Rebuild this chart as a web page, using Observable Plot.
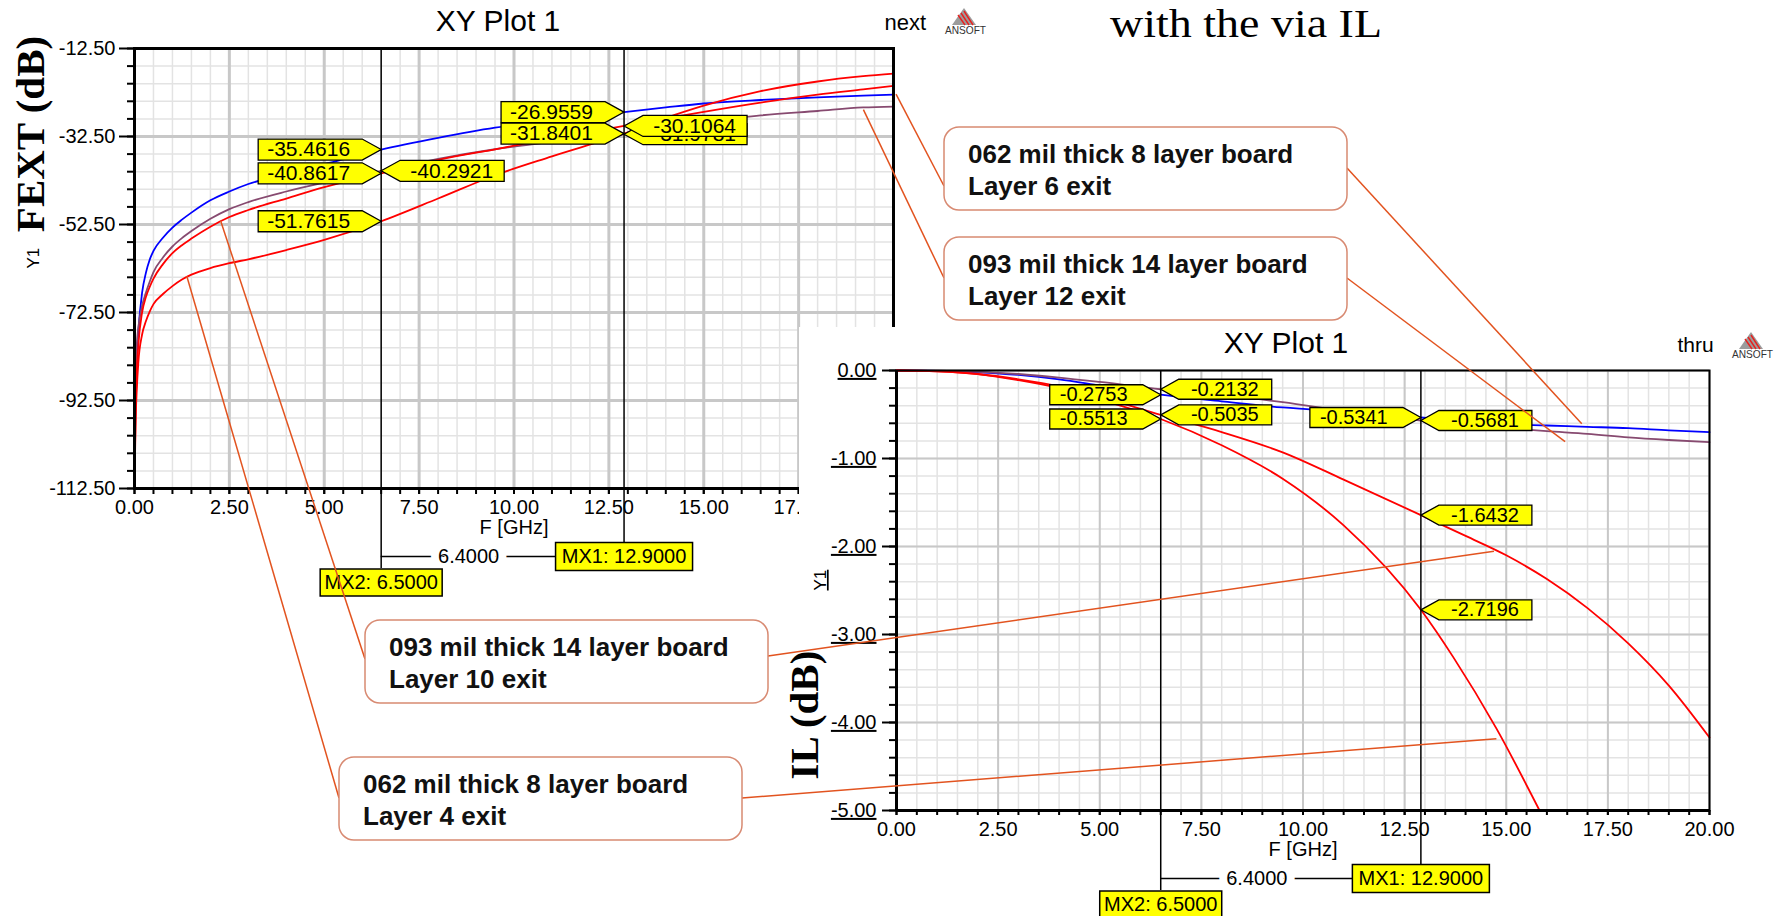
<!DOCTYPE html>
<html><head><meta charset="utf-8">
<script src="https://cdn.jsdelivr.net/npm/d3@7"></script>
<script src="https://cdn.jsdelivr.net/npm/@observablehq/plot@0.6"></script>
<style>
body{margin:0;background:#fff;}
#page{position:relative;width:1775px;height:916px;overflow:hidden;background:#fff;font-family:"Liberation Sans",Arial,sans-serif;}
#fext{position:absolute;left:0;top:0;width:1000px;height:610px;}
#il{position:absolute;left:799px;top:327px;width:976px;height:589px;background:#fff;}
#overlay{position:absolute;left:0;top:0;}
svg{max-width:none !important;}
</style></head>
<body><div id="page"><div id="fext"></div><div id="il"></div><svg id="overlay" width="1775" height="916"></svg></div>
<script>
// ---------------- DATA ----------------
const plotTitle = "XY Plot 1";
const fextTag = "next";
const ilTag = "thru";
const xLabel = "F [GHz]";
const yLabelSmall = "Y1";

const fextXDomain = [0, 20];
const fextYDomain = [-112.5, -12.5];
const fextXTicks = [0, 2.5, 5, 7.5, 10, 12.5, 15, 17.5, 20];
const fextYTicks = [-112.5, -92.5, -72.5, -52.5, -32.5, -12.5];

const fextFreq   = [0, 0.03, 0.06, 0.1, 0.2, 0.3, 0.4, 0.5, 0.75, 1, 1.25, 1.5, 2, 2.5, 3, 4, 5, 6.5, 8, 9.5, 11, 12.9, 14, 15, 16.5, 18, 19.2, 20];
const fextBlue   = [-106, -90, -83, -77, -68, -63.5, -60.5, -58.5, -55.5, -53.2, -51.4, -49.8, -47, -45, -43.3, -41, -38.8, -35.46, -32.8, -30.5, -28.8, -26.96, -25.9, -25.0, -24.2, -23.6, -23.2, -23.0];
const fextPurple = [-108, -90, -80, -76, -71, -68, -65.5, -63.3, -60, -57.5, -55.6, -54, -51.2, -49, -47.4, -45, -43, -40.29, -37.6, -35.4, -33.7, -31.98, -30.3, -29.2, -27.7, -26.7, -25.9, -25.7];
const fextRedA   = [-110, -95, -86, -80, -72.5, -69, -66.7, -64.8, -61.5, -59, -57.2, -55.7, -53, -50.8, -49.2, -46.6, -44, -40.86, -37.8, -35.4, -33, -30.11, -28.4, -26.9, -24.8, -23, -21.8, -21];
const fextRedB   = [-112, -97, -90, -84, -77.5, -74.5, -72.3, -70.6, -68.3, -66.5, -65, -63.9, -62.4, -61.3, -60.4, -58.3, -56, -51.76, -46.6, -41.3, -37, -31.84, -28.3, -25.5, -22.2, -20, -18.8, -18.2];

const ilXDomain = [0, 20];
const ilYDomain = [-5, 0];
const ilXTicks = [0, 2.5, 5, 7.5, 10, 12.5, 15, 17.5, 20];
const ilYTicks = [-5, -4, -3, -2, -1, 0];

const ilFreq   = [0, 1, 2, 3, 4, 5, 6.5, 8, 9.5, 11, 12.9, 14, 15, 16, 17, 18, 19, 20];
const ilBlue   = [0, -0.005, -0.02, -0.05, -0.1, -0.17, -0.2753, -0.35, -0.42, -0.47, -0.5341, -0.575, -0.61, -0.625, -0.64, -0.655, -0.68, -0.70];
const ilPurple = [0, -0.003, -0.015, -0.04, -0.08, -0.13, -0.2132, -0.28, -0.36, -0.46, -0.5681, -0.625, -0.655, -0.69, -0.72, -0.76, -0.79, -0.815];
const ilRedC   = [0, -0.01, -0.04, -0.1, -0.18, -0.3, -0.5035, -0.7, -0.93, -1.24, -1.6432, -1.88, -2.1, -2.37, -2.7, -3.1, -3.58, -4.17];
const ilRedDFreq = [0, 1, 2, 3, 4, 5, 6.5, 8, 9.5, 11, 12.9, 13.7, 14.76, 15.82];
const ilRedD     = [0, -0.01, -0.04, -0.11, -0.2, -0.33, -0.5513, -0.85, -1.23, -1.76, -2.7196, -3.26, -4.07, -5.0];

const markerNames = ["MX2", "MX1"];
const markerFreqs = [6.5, 12.9];

const fextMarkerValues = [
  {f: 6.5, v: -35.4616, side: "L"}, {f: 6.5, v: -40.8617, side: "L"},
  {f: 6.5, v: -40.2921, side: "R"}, {f: 6.5, v: -51.7615, side: "L"},
  {f: 12.9, v: -26.9559, side: "L"}, {f: 12.9, v: -31.8401, side: "L"},
  {f: 12.9, v: -31.9781, side: "R"}, {f: 12.9, v: -30.1064, side: "R"}
];
const ilMarkerValues = [
  {f: 6.5, v: -0.2753, side: "L"}, {f: 6.5, v: -0.5513, side: "L"},
  {f: 6.5, v: -0.2132, side: "R"}, {f: 6.5, v: -0.5035, side: "R"},
  {f: 12.9, v: -0.5341, side: "L"}, {f: 12.9, v: -0.5681, side: "R"},
  {f: 12.9, v: -1.6432, side: "R"}, {f: 12.9, v: -2.7196, side: "R"}
];

const calloutText = [
  ["062 mil thick 8 layer board", "Layer 6 exit"],
  ["093 mil thick 14 layer board", "Layer 12 exit"],
  ["093 mil thick 14 layer board", "Layer 10 exit"],
  ["062 mil thick 8 layer board", "Layer 4 exit"]
];
const calloutFextTarget = [[20.08, -23.0], [19.22, -26.5], [2.28, -51.7], [1.39, -64.3]];
const calloutIlTarget   = [[16.87, -0.61], [16.46, -0.815], [14.71, -2.06], [14.77, -4.19]];

const fextTitle = "FEXT (dB)";
const ilTitle = "IL (dB)";
const slideTitle = "with the via IL";
const logoText = "ANSOFT";

// ---------------- STYLE / LAYOUT ----------------
const FONT = "Liberation Sans, Arial, Helvetica, sans-serif";
const C = {blue: "#0000FF", purple: "#874A70", red: "#FF0000", major: "#C8C8C8", minor: "#E3E3E3",
           yellow: "#FFFF00", leader: "#E2531F", boxStroke: "#D88A72"};
const calloutBoxes = [
  {x: 944, y: 127, lY: 59, rY: 41}, {x: 944, y: 237, lY: 41, rY: 41},
  {x: 365, y: 620, lY: 39, rY: 36}, {x: 339, y: 757, lY: 41, rY: 41}
];
const BOX_W = 403, BOX_H = 83;

function rows(freq, vals) { return freq.map((f, i) => ({f, v: vals[i]})); }
function arrowBox(w, h, a, dir) {
  return {draw(ctx) { ctx.moveTo(0, 0); ctx.lineTo(dir * a, -h / 2); ctx.lineTo(dir * w, -h / 2);
    ctx.lineTo(dir * w, h / 2); ctx.lineTo(dir * a, h / 2); ctx.closePath(); }};
}
function rectBox(w, h) { return {draw(ctx) { ctx.rect(-w / 2, -h / 2, w, h); }}; }

function valueLabelMarks(labels, cfg) {
  return labels.flatMap(d => {
    const dir = d.side === "L" ? -1 : 1;
    return [
      Plot.dot([d], {x: "f", y: "v", symbol: arrowBox(cfg.w, cfg.h, cfg.a, dir), fill: C.yellow, stroke: "black", strokeWidth: 1.3}),
      Plot.text([d], {x: "f", y: "v", text: e => e.v.toFixed(4), textAnchor: dir < 0 ? "start" : "end",
        dx: dir < 0 ? -cfg.w + cfg.padL : cfg.w - cfg.padR, fontSize: cfg.fs, fill: "black", lineAnchor: "middle"})
    ];
  });
}
function markerMarks(yMin) {
  const m = markerNames.map((name, i) => ({name, f: markerFreqs[i]}));
  const delta = markerFreqs[1] - markerFreqs[0];
  return [
    Plot.ruleX([m[0]], {x: "f", stroke: "black", strokeWidth: 1.5, insetBottom: -80}),
    Plot.ruleX([m[1]], {x: "f", stroke: "black", strokeWidth: 1.5, insetBottom: -54}),
    Plot.ruleY([yMin], {y: d => d, x1: () => markerFreqs[0], x2: () => markerFreqs[1], dy: 68, stroke: "black", strokeWidth: 1.5}),
    Plot.text([delta], {x: () => (markerFreqs[0] + markerFreqs[1]) / 2, text: d => d.toFixed(4), frameAnchor: "bottom", dy: 68, dx: -34,
      lineAnchor: "middle", fill: "black", stroke: "white", strokeWidth: 16, strokeLinejoin: "round", fontSize: 20}),
    Plot.dot([m[1]], {x: "f", frameAnchor: "bottom", dy: 68, symbol: rectBox(137, 28), fill: C.yellow, stroke: "black", strokeWidth: 1.5}),
    Plot.text([m[1]], {x: "f", text: d => `${d.name}: ${d.f.toFixed(4)}`, frameAnchor: "bottom", dy: 68, lineAnchor: "middle", fontSize: 20}),
    Plot.dot([m[0]], {x: "f", frameAnchor: "bottom", dy: 94, symbol: rectBox(122, 27), fill: C.yellow, stroke: "black", strokeWidth: 1.5}),
    Plot.text([m[0]], {x: "f", text: d => `${d.name}: ${d.f.toFixed(4)}`, frameAnchor: "bottom", dy: 94, lineAnchor: "middle", fontSize: 20})
  ];
}

// ---------------- FEXT PLOT ----------------
const fextXMinor = d3.range(0, 20.001, 0.5);
const fextYMinor = d3.range(-112.5, -12.4, 4);
const fextPlot = Plot.plot({
  width: 1000, height: 610, marginLeft: 134, marginRight: 107, marginTop: 48, marginBottom: 122,
  style: {fontFamily: FONT, fontSize: "20px", background: "transparent", color: "black", overflow: "visible"},
  x: {domain: fextXDomain, label: null},
  y: {domain: fextYDomain, label: null},
  marks: [
    Plot.gridX(fextXMinor, {stroke: C.minor, strokeOpacity: 1, strokeWidth: 1.5}),
    Plot.gridY(fextYMinor, {stroke: C.minor, strokeOpacity: 1, strokeWidth: 1.5}),
    Plot.gridX(fextXTicks, {stroke: C.major, strokeOpacity: 1, strokeWidth: 3}),
    Plot.gridY(fextYTicks, {stroke: C.major, strokeOpacity: 1, strokeWidth: 3}),
    Plot.line(rows(fextFreq, fextBlue), {x: "f", y: "v", stroke: C.blue, strokeWidth: 1.8, curve: "monotone-x"}),
    Plot.line(rows(fextFreq, fextPurple), {x: "f", y: "v", stroke: C.purple, strokeWidth: 1.8, curve: "monotone-x"}),
    Plot.line(rows(fextFreq, fextRedA), {x: "f", y: "v", stroke: C.red, strokeWidth: 1.8, curve: "monotone-x"}),
    Plot.line(rows(fextFreq, fextRedB), {x: "f", y: "v", stroke: C.red, strokeWidth: 1.8, curve: "monotone-x"}),
    Plot.frame({stroke: "black", strokeWidth: 3}),
    Plot.axisY(fextYMinor, {tickSize: 7, tickFormat: () => "", strokeWidth: 2, label: null}),
    Plot.axisY(fextYTicks, {tickSize: 15, tickPadding: 4, tickFormat: d => d.toFixed(2), strokeWidth: 2, label: null, fontSize: 20}),
    Plot.axisX(fextXMinor, {tickSize: 6, tickFormat: () => "", strokeWidth: 2, label: null}),
    Plot.axisX(fextXTicks, {tickSize: 6, tickPadding: 5, tickFormat: d => d.toFixed(2), strokeWidth: 2, label: null, fontSize: 20}),
    Plot.text([xLabel], {text: d => d, frameAnchor: "bottom", dy: 39, lineAnchor: "middle", fontSize: 20}),
    Plot.text([yLabelSmall], {text: d => d, frameAnchor: "left", dx: -101, rotate: -90, fontSize: 17}),
    Plot.text([plotTitle], {text: d => d, frameAnchor: "top", dx: -16, dy: -27, lineAnchor: "middle", fontSize: 30}),
    Plot.text([fextTag], {text: d => d, frameAnchor: "top-right", dx: -9, dy: -26, textAnchor: "start", lineAnchor: "middle", fontSize: 22}),
    ...markerMarks(fextYDomain[0]),
    ...valueLabelMarks(fextMarkerValues, {w: 123, h: 21, a: 19, padL: 9, padR: 11, fs: 21})
  ]
});
document.getElementById("fext").appendChild(fextPlot);

// ---------------- IL PLOT ----------------
const ilXMinor = d3.range(0, 20.001, 0.5);
const ilYMinor = d3.range(-5, 0.001, 0.2);
const ilPlot = Plot.plot({
  width: 976, height: 589, marginLeft: 97, marginRight: 66, marginTop: 43, marginBottom: 106,
  style: {fontFamily: FONT, fontSize: "20px", background: "white", color: "black", overflow: "visible"},
  x: {domain: ilXDomain, label: null},
  y: {domain: ilYDomain, label: null},
  marks: [
    Plot.gridX(ilXMinor, {stroke: C.minor, strokeOpacity: 1, strokeWidth: 1.5}),
    Plot.gridY(ilYMinor, {stroke: C.minor, strokeOpacity: 1, strokeWidth: 1.5}),
    Plot.gridX(ilXTicks, {stroke: C.major, strokeOpacity: 1, strokeWidth: 2}),
    Plot.gridY(ilYTicks, {stroke: C.major, strokeOpacity: 1, strokeWidth: 2}),
    Plot.line(rows(ilFreq, ilBlue), {x: "f", y: "v", stroke: C.blue, strokeWidth: 1.8, curve: "monotone-x"}),
    Plot.line(rows(ilFreq, ilPurple), {x: "f", y: "v", stroke: C.purple, strokeWidth: 1.8, curve: "monotone-x"}),
    Plot.line(rows(ilFreq, ilRedC), {x: "f", y: "v", stroke: C.red, strokeWidth: 1.8, curve: "monotone-x"}),
    Plot.line(rows(ilRedDFreq, ilRedD), {x: "f", y: "v", stroke: C.red, strokeWidth: 1.8, curve: "monotone-x"}),
    Plot.frame({stroke: "black", strokeWidth: 2}),
    Plot.ruleX([ilXDomain[0]], {x: d => d, stroke: "black", strokeWidth: 3}),
    Plot.ruleY([ilYDomain[0]], {y: d => d, stroke: "black", strokeWidth: 3}),
    Plot.axisY(ilYMinor, {tickSize: 7, tickFormat: () => "", strokeWidth: 2, label: null}),
    Plot.axisY(ilYTicks, {tickSize: 14, tickPadding: 6, tickFormat: d => d.toFixed(2), strokeWidth: 2, label: null, fontSize: 20}),
    Plot.axisX(ilXMinor, {tickSize: 5, tickFormat: () => "", strokeWidth: 2, label: null}),
    Plot.axisX(ilXTicks, {tickSize: 5, tickPadding: 6, tickFormat: d => d.toFixed(2), strokeWidth: 2, label: null, fontSize: 20}),
    Plot.text([xLabel], {text: d => d, frameAnchor: "bottom", dy: 39, lineAnchor: "middle", fontSize: 20}),
    Plot.text([yLabelSmall], {text: d => d, frameAnchor: "left", dx: -76, rotate: -90, fontSize: 17}),
    Plot.text([plotTitle], {text: d => d, frameAnchor: "top", dx: -17, dy: -27, lineAnchor: "middle", fontSize: 30}),
    Plot.text([ilTag], {text: d => d, frameAnchor: "top-right", dx: -32, dy: -25, textAnchor: "start", lineAnchor: "middle", fontSize: 21}),
    ...markerMarks(ilYDomain[0]),
    ...valueLabelMarks(ilMarkerValues, {w: 111, h: 20, a: 18, padL: 10, padR: 13, fs: 20})
  ]
});
document.getElementById("il").appendChild(ilPlot);

// underline the IL y tick labels and the small Y1 label
ilPlot.querySelectorAll('g[aria-label="y-axis tick label"] text').forEach(t => t.style.textDecoration = "underline");
ilPlot.querySelectorAll("text").forEach(t => { if (t.textContent === yLabelSmall) t.style.textDecoration = "underline"; });

// ---------------- OVERLAY (callouts, titles, logos) ----------------
function scaler(plot, ox, oy) {
  const sx = plot.scale("x"), sy = plot.scale("y");
  const X = d3.scaleLinear(sx.domain, sx.range), Y = d3.scaleLinear(sy.domain, sy.range);
  return (f, v) => [ox + X(f), oy + Y(v)];
}
const toFext = scaler(fextPlot, 0, 0);
const toIl = scaler(ilPlot, 799, 327);
const ov = d3.select("#overlay");

calloutText.forEach((lines, i) => {
  const b = calloutBoxes[i];
  const p1 = toFext(...calloutFextTarget[i]);
  const p2 = toIl(...calloutIlTarget[i]);
  ov.append("line").attr("x1", b.x).attr("y1", b.y + b.lY).attr("x2", p1[0]).attr("y2", p1[1])
    .attr("stroke", C.leader).attr("stroke-width", 1.5);
  ov.append("line").attr("x1", b.x + BOX_W).attr("y1", b.y + b.rY).attr("x2", p2[0]).attr("y2", p2[1])
    .attr("stroke", C.leader).attr("stroke-width", 1.5);
  ov.append("rect").attr("x", b.x).attr("y", b.y).attr("width", BOX_W).attr("height", BOX_H)
    .attr("rx", 15).attr("fill", "white").attr("stroke", C.boxStroke).attr("stroke-width", 1.5);
  lines.forEach((s, j) => ov.append("text").attr("x", b.x + 24).attr("y", b.y + 35.5 + j * 32)
    .attr("font-family", FONT).attr("font-weight", "bold").attr("font-size", 26).attr("fill", "#111").text(s));
});

ov.append("text").attr("transform", "translate(44,134) rotate(-90)").attr("text-anchor", "middle")
  .attr("font-family", "Liberation Serif, Times New Roman, serif").attr("font-weight", "bold").attr("font-size", 41).text(fextTitle);
ov.append("text").attr("transform", "translate(818,715) rotate(-90)").attr("text-anchor", "middle")
  .attr("font-family", "Liberation Serif, Times New Roman, serif").attr("font-weight", "bold").attr("font-size", 41).text(ilTitle);
ov.append("text").attr("x", 1110).attr("y", 37)
  .attr("font-family", "Liberation Serif, Times New Roman, serif").attr("font-size", 41)
  .attr("textLength", 272).attr("lengthAdjust", "spacingAndGlyphs").text(slideTitle);

function logo(x, y) {
  const g = ov.append("g").attr("transform", `translate(${x},${y})`);
  g.append("path").attr("d", "M19,0 L31,17 L7,17 Z").attr("fill", "#9C9C9C");
  [[13, 7, 20, 17], [16, 5, 24, 17], [19, 3, 28, 17]].forEach(s =>
    g.append("line").attr("x1", s[0]).attr("y1", s[1]).attr("x2", s[2]).attr("y2", s[3]).attr("stroke", "#E8201E").attr("stroke-width", 1.4));
  g.append("text").attr("x", 0).attr("y", 25.5).attr("font-family", FONT).attr("font-size", 10.5)
    .attr("textLength", 41).attr("lengthAdjust", "spacingAndGlyphs").attr("fill", "#333").text(logoText);
}
logo(945, 8);
logo(1732, 332);
</script></body></html>
